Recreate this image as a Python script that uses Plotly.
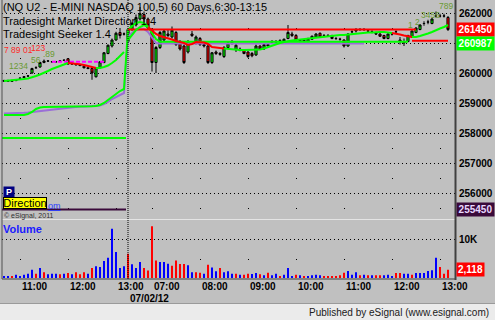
import plotly.graph_objects as go

# ---------------- data ----------------
session_bars = [31, 81]          # prev. session 10:40-13:10, then 07/02/12 06:30-13:10 (5-min bars)
tick_bars = [4, 16, 28, 37, 49, 61, 73, 85, 97, 109]
tick_text = ["11:00", "12:00", "13:00", "07:00", "08:00", "09:00", "10:00", "11:00", "12:00", "13:00"]
date_text = "07/02/12"
price_ticks = [262000, 261000, 260000, 259000, 258000, 257000, 256000]
vol_ticks = [10000]

opens = [
    259725, 259750, 259750, 259775, 259825, 259850, 259900, 260000, 260175, 260200,
    260350, 260400, 260375, 260375, 260400, 260425, 260475, 260325, 260300, 260275,
    260225, 260175, 260150, 259875, 260175, 260350, 260650, 260900, 261100, 261350,
    261300,
    261050, 261450, 261600, 261800, 261950, 261800, 261450, 260350, 260850, 261100,
    261300, 261200, 261350, 261050, 260900, 260700, 261300, 261000, 261150, 260950,
    260900, 260350, 260700, 260650, 260550, 260850, 261025, 260775, 260800, 260750,
    260700, 260650, 260600, 260900, 260800, 260950, 261050, 261050, 261050, 261025,
    261150, 261300, 261250, 261100, 261100, 261050, 261125, 261200, 261325, 261250,
    261250, 261250, 261150, 261125, 261100, 260900, 261375, 261400, 261450, 261450,
    261400, 261375, 261325, 261300, 261250, 261150, 261300, 261375, 261100, 261050,
    261050, 261200, 261350, 261450, 261650, 261700, 261650, 261900, 261900, 261900,
    261850]
highs = [
    259775, 259775, 259775, 259800, 259850, 259900, 259925, 260175, 260225, 260375,
    260450, 260425, 260400, 260400, 260425, 260450, 260500, 260350, 260325, 260300,
    260250, 260200, 260200, 260200, 260400, 260700, 260950, 261150, 261375, 261500,
    261350,
    261500, 261700, 261950, 262200, 262050, 261850, 261500, 260900, 261400, 261450,
    261450, 261550, 261400, 261100, 260950, 261100, 261400, 261250, 261200, 261000,
    260950, 260700, 260750, 260700, 260900, 261050, 261100, 261000, 260850, 260800,
    260725, 260700, 260950, 260925, 260975, 260975, 261100, 261100, 261125, 261150,
    261600, 261375, 261300, 261125, 261125, 261175, 261250, 261325, 261350, 261300,
    261300, 261275, 261200, 261175, 261125, 261325, 261425, 261500, 261500, 261500,
    261450, 261425, 261375, 261325, 261275, 261325, 261350, 261425, 261200, 261150,
    261275, 261425, 261525, 261625, 261725, 261775, 261825, 262050, 261975, 261975,
    261900]
lows = [
    259700, 259700, 259700, 259725, 259800, 259825, 259875, 259975, 260150, 260175,
    260325, 260375, 260350, 260350, 260375, 260400, 260275, 260275, 260250, 260225,
    260150, 260125, 259775, 259850, 260150, 260325, 260625, 260850, 261075, 261150,
    261250,
    261000, 261400, 261550, 261750, 261700, 261450, 260050, 260000, 260800, 261050,
    261200, 261150, 260900, 260750, 260300, 260650, 261200, 260950, 260900, 260850,
    260300, 260300, 260600, 260575, 260500, 260800, 260950, 260700, 260725, 260625,
    260500, 260525, 260575, 260775, 260775, 260875, 260975, 260975, 261000, 261000,
    261125, 261200, 261075, 261025, 261025, 261025, 261100, 261175, 261175, 261200,
    261200, 261125, 261100, 261075, 260850, 260875, 261325, 261350, 261400, 261400,
    261350, 261325, 261275, 261200, 261125, 261125, 261250, 261325, 260950, 260900,
    261025, 261175, 261325, 261425, 261575, 261625, 261625, 261850, 261850, 261850,
    261400]
closes = [
    259750, 259725, 259725, 259750, 259825, 259875, 259900, 260150, 260175, 260350,
    260400, 260400, 260375, 260375, 260400, 260425, 260300, 260300, 260275, 260250,
    260175, 260150, 260000, 260175, 260375, 260675, 260925, 261100, 261325, 261250,
    261300,
    261450, 261650, 261850, 261975, 261800, 261500, 260350, 260850, 261350, 261400,
    261250, 261425, 260950, 260800, 260350, 261050, 261250, 261200, 260950, 260900,
    260350, 260675, 260650, 260625, 260850, 261000, 261000, 260925, 260750, 260650,
    260550, 260575, 260900, 260800, 260950, 260900, 261025, 261025, 261075, 261125,
    261350, 261250, 261100, 261075, 261075, 261150, 261225, 261300, 261200, 261250,
    261250, 261150, 261150, 261125, 260900, 261300, 261375, 261450, 261450, 261450,
    261400, 261375, 261300, 261225, 261150, 261300, 261300, 261375, 261050, 261000,
    261250, 261400, 261500, 261600, 261650, 261700, 261800, 261900, 261900, 261900,
    261450]
volumes = [
    500, 500, 500, 850, 500, 850, 1100, 2100, 1100, 2560,
    1500, 950, 1100, 1100, 950, 1100, 1300, 950, 1500, 950,
    1500, 1100, 2560, 3000, 2800, 4350, 5200, 12600, 6650, 2560,
    3000,
    6200, 3500, 2560, 4100, 2560, 1900, 13300, 4500, 4100, 4100,
    3650, 3150, 4500, 3600, 3600, 3250, 1500, 1500, 1350, 1100,
    3400, 2700, 1700, 2560, 1500, 1700, 1100, 1100, 850, 850,
    1100, 1000, 1300, 950, 700, 1350, 700, 1100, 500, 850,
    2560, 500, 850, 700, 500, 500, 700, 850, 700, 500,
    500, 500, 500, 700, 1350, 1800, 850, 1500, 700, 850,
    700, 700, 700, 700, 700, 850, 500, 1300, 1300, 1100,
    1100, 850, 1300, 1300, 1300, 1800, 2000, 5200, 2800, 1100,
    2118]
# b = blue (up) volume, r = red (down) volume
vol_dir = ("bbrbbbbbrb" "rbbbrbrbrr" "rbrbbbbbbb" "b"
           "rbbbrrrrbb" "brrrrbbrrb" "rbbrbb"
           "brbrrbbrbr" "bbrbbbrbrb" "bbbrrrrrrb" "bbrbrbrrbb" "brrbbrbbbb" "bbrrr")

# Tradesight Seeker (fast trailing line) and its state g = long / r = short
fast_seeker = [
    259733, 259743, 259750, 259767, 259783, 259800, 259817, 259850, 259900, 259950,
    260000, 260067, 260133, 260183, 260233, 260283, 260333, 260323, 260307, 260290,
    260267, 260240, 260200, 260167, 260167, 260200, 260250, 260333, 260433, 260567,
    260700,
    261100, 261267, 261433, 261533, 261600, 261533, 261400, 261300, 261233, 261200,
    261167, 261117, 261067, 261033, 261000, 260933, 260967, 261033, 261033, 261017,
    260967, 260867, 260850, 260833, 260817, 260800, 260783, 260767, 260767, 260767,
    260767, 260767, 260767, 260783, 260817, 260867, 260917, 260967, 261000, 261033,
    261067, 261083, 261100, 261117, 261133, 261150, 261167, 261183, 261200, 261200,
    261217, 261233, 261250, 261267, 261267, 261283, 261300, 261317, 261333, 261333,
    261350, 261350, 261367, 261367, 261367, 261350, 261333, 261317, 261283, 261250,
    261217, 261200, 261200, 261233, 261267, 261317, 261367, 261433, 261483, 261533,
    261600]
fast_state = ("gggggggggggggggg" "rrrrrrr" "gggggggg"
              "ggggg" "rrrrrrrrrrrrrrrrrrr"
              "gggggggggggggggggggggggggggggggggggggggggg" "rrrrr" "gggggggggg")

# slow seeker line (green) and its shadow (purple)
slow_seeker = [
    258600, 258600, 258600, 258600, 258600, 258600, 258633, 258700, 258800, 258850,
    258867, 258867, 258867, 258867, 258870, 258870, 258875, 258875, 258880, 258880,
    258885, 258885, 258890, 258900, 258933, 259000, 259100, 259200, 259300, 259400,
    259467,
    261433, 261567, 261667, 261700, 261667, 261533, 261333, 261133, 261040, 261040,
    261040, 261040, 261040, 261040, 261040, 261040, 261040, 261040, 261040, 261040,
    261040, 261040, 261040, 261040, 261040, 261040, 261040, 261040, 261040, 261040,
    261040, 261040, 261040, 261040, 261040, 261040, 261040, 261040, 261040, 261040,
    261040, 261040, 261040, 261040, 261040, 261040, 261040, 261040, 261040, 261040,
    261040, 261040, 261040, 261040, 261040, 261040, 261040, 261040, 261040, 261040,
    261040, 261040, 261040, 261040, 261040, 261040, 261040, 261040, 261040, 261040,
    261040, None, None, None, None, None, None, None, None, None,
    None]
slow_shadow = [
    258650, 258650, 258655, 258660, 258667, 258675, 258685, 258700, 258720, 258740,
    258760, 258780, 258800, 258815, 258830, 258845, 258855, 258867, 258875, 258880,
    258885, 258890, 258895, 258900, 258917, 258967, 259033, 259133, 259200, 259267,
    259333,
    261233, 261333, 261433, 261483, 261467, 261367, 261167, 261000, 260985, 260985,
    260985, 260985, 260985, 260985, 260985, 260985, 260985, 260985, 260985, 260985,
    260985, 260985, 260985, 260985, 260985, 260985, 260985, 260985, 260985, 260985,
    260985, 260985, 260985, 260985, 260985, 260985, 260985, 260985, 260985, 260985,
    260985, 260985, 260985, 260985, 260985, 260985, 260985, 260985, 260985, 260985,
    260985, 260985, 260985, 260985, 260985, 260985, 260985, 260985, 260985, 260985,
    None, None, None, None, None, None, None, None, None, None,
    None, None, None, None, None, None, None, None, None, None,
    None]

# Market Direction levels: (first bar, last bar, price)
resistance_levels = [(31, 103, 261450), (102, 111, 261075)]
pivot_level = (12, 25, 260375)
day1_support = 257833
day1_floor = 255450
support_value = 260987

# TD-style bar counts: (text, bar, price, side, anchor)
counts = [
    ("7 89 01", -0.25, 260767, "dn", "left"), ("123", 6.4, 260850, "dn", "left"),
    (".89", 9.5, 260633, "up", "left"),
    ("1234", 6.25, 260233, "up", "right"), ("56", 6.5, 260433, "up", "left"),
    ("1", 102.5, 261600, "up", "right"), ("2", 102.5, 261700, "up", "left"),
    ("3456", 104.0, 261920, "up", "left"), ("789", 108.5, 262250, "up", "left"),
]

# ---------------- layout helpers ----------------
W, H = 495, 320
FONT = "Arial, Liberation Sans, sans-serif"


def X(px):
    return px / W


def Y(px):
    return 1 - px / H


N = len(closes)
idx = list(range(N))
day_of = []
for d, n in enumerate(session_bars):
    day_of += [d] * n

# price panel: pixel rows 0..218, 30 px per 1000 pts, 262000 at row 13
P_TOP_PX, P_BOT_PX, REF_PX, REF_P, PPX = 0, 218, 13, 262000, 0.03
p_hi = REF_P + (REF_PX - P_TOP_PX) / PPX
p_lo = REF_P - (P_BOT_PX - REF_PX) / PPX
# volume panel: rows 220..278, 39 px per 10K
V_TOP_PX, V_BOT_PX = 220, 278
v_hi = (V_BOT_PX - V_TOP_PX) / 39 * 10000
XL, XR = 2, 455
x_lo = (XL - 4) / 4
x_hi = (XR - 4) / 4


def price_px(p):
    return REF_PX + (REF_P - p) * PPX


fig = go.Figure()

# slow seeker shadow + line
fig.add_trace(go.Scatter(x=idx, y=slow_shadow, mode="lines",
                         line=dict(color="#9a6fd6", width=2), hoverinfo="skip"))
fig.add_trace(go.Scatter(x=idx, y=slow_seeker, mode="lines",
                         line=dict(color="#00ff00", width=2), hoverinfo="skip"))

# day-1 horizontal levels
d1 = [i for i in idx if day_of[i] == 0]
fig.add_trace(go.Scatter(x=[d1[0] - 0.5, d1[-1] + 0.5], y=[day1_support] * 2, mode="lines",
                         line=dict(color="#00ff00", width=2), hoverinfo="skip"))
fig.add_trace(go.Scatter(x=[d1[0] - 0.5, d1[-1] + 0.5], y=[day1_floor] * 2, mode="lines",
                         line=dict(color="#3a0a3a", width=2), hoverinfo="skip"))

# pivot dashed
fig.add_trace(go.Scatter(x=[pivot_level[0], pivot_level[1]], y=[pivot_level[2]] * 2, mode="lines",
                         line=dict(color="#ff00ff", width=2, dash="4px,2px"), hoverinfo="skip"))

# resistance levels
for a, b, lv in resistance_levels:
    fig.add_trace(go.Scatter(x=[a, b], y=[lv, lv], mode="lines",
                             line=dict(color="#ff0000", width=2), hoverinfo="skip"))

# fast seeker, coloured by state
start = 0
for i in range(1, N + 1):
    if i == N or fast_state[i] != fast_state[start] or day_of[i] != day_of[start]:
        xs = list(range(start, i))
        if i < N and day_of[i] == day_of[start]:
            xs.append(i)
        col = "#00ff00" if fast_state[start] == "g" else "#ff0000"
        fig.add_trace(go.Scatter(x=xs, y=[fast_seeker[k] for k in xs], mode="lines",
                                 line=dict(color=col, width=2), hoverinfo="skip"))
        start = i

# candles
fig.add_trace(go.Candlestick(
    x=idx, open=opens, high=highs, low=lows, close=closes,
    increasing=dict(line=dict(color="black", width=1), fillcolor="#00ff00"),
    decreasing=dict(line=dict(color="black", width=1), fillcolor="#ff0000"),
    whiskerwidth=0, hoverinfo="skip", xaxis="x", yaxis="y"))

# volume
fig.add_trace(go.Bar(x=idx, y=volumes,
                     marker=dict(color=["#0000ff" if c == "b" else "#ff0000" for c in vol_dir],
                                 line=dict(width=0)),
                     width=0.3, xaxis="x2", yaxis="y2", hoverinfo="skip"))

ann = []
# header texts
for txt, ypx in [("(NQ U2 - E-MINI NASDAQ 100,5) 60 Days,6:30-13:15", 7),
                 ("Tradesight Market Direction 1.4", 21),
                 ("Tradesight Seeker 1.4", 34)]:
    ann.append(dict(text=txt, x=X(1), y=Y(ypx), xref="paper", yref="paper", xanchor="left",
                    yanchor="middle", showarrow=False, font=dict(family=FONT, size=11, color="black")))

# counts
for txt, b, p, side, anc in counts:
    ann.append(dict(text=txt, x=b, y=p, xref="x", yref="y", showarrow=False, xanchor=anc,
                    yanchor="middle", borderpad=0,
                    font=dict(family=FONT, size=8.5, color="#ff2a2a" if side == "dn" else "#6a9a32")))

# right price labels
boxes = [(closes[-1], "#ff0000", "white"), (support_value, "#00ff00", "white"), (day1_floor, "#3a0a3a", "#e8d8ff")]
for t in price_ticks:
    if any(abs(price_px(t) - price_px(b[0])) < 12 for b in boxes):
        continue
    ann.append(dict(text="<b>%d</b>" % t, x=X(457), y=t, xref="paper", yref="y", xanchor="left",
                    yanchor="middle", showarrow=False, font=dict(family=FONT, size=10, color="black")))
for val, bg, fg in boxes:
    ann.append(dict(text="<b>%d</b>" % val, x=X(456), y=val, xref="paper", yref="y", xanchor="left",
                    yanchor="middle", showarrow=False, bgcolor=bg, borderpad=1, width=35, height=11,
                    font=dict(family=FONT, size=10, color=fg)))

# volume labels
for t in vol_ticks:
    ann.append(dict(text="<b>%dK</b>" % (t // 1000), x=X(457), y=t, xref="paper", yref="y2",
                    xanchor="left", yanchor="middle", showarrow=False,
                    font=dict(family=FONT, size=10, color="black")))
ann.append(dict(text="<b>%s</b>" % format(volumes[-1], ","), x=X(456), y=volumes[-1], xref="paper",
                yref="y2", xanchor="left", yanchor="middle", showarrow=False, bgcolor="#ff0000",
                borderpad=1, font=dict(family=FONT, size=10, color="white")))
ann.append(dict(text="<b>Volume</b>", x=X(1), y=Y(229), xref="paper", yref="paper", xanchor="left",
                yanchor="middle", showarrow=False, font=dict(family=FONT, size=11, color="#1a1aff")))

# x labels
for b, t in zip(tick_bars, tick_text):
    ann.append(dict(text="<b>%s</b>" % t, x=b, y=Y(286), xref="x", yref="paper", xanchor="left",
                    yanchor="middle", showarrow=False, font=dict(family=FONT, size=10, color="black")))
ann.append(dict(text="<b>%s</b>" % date_text, x=session_bars[0], y=Y(298.5), xref="x", yref="paper",
                xanchor="left", yanchor="middle", showarrow=False,
                font=dict(family=FONT, size=10, color="black")))

# small widgets bottom-left
ann.append(dict(text="<b>P</b>", x=X(3), y=Y(191.5), xref="paper", yref="paper", xanchor="left",
                yanchor="middle", showarrow=False, bgcolor="#000080", width=10, height=10, borderpad=0,
                font=dict(family=FONT, size=9, color="white")))
ann.append(dict(text="<u>om</u>", x=X(46), y=Y(206), xref="paper", yref="paper", xanchor="left",
                yanchor="middle", showarrow=False, font=dict(family=FONT, size=9, color="#2a3cff")))
ann.append(dict(text="Direction", x=X(3), y=Y(202.5), xref="paper", yref="paper", xanchor="left",
                yanchor="middle", showarrow=False, bgcolor="#ffff00", bordercolor="black", borderwidth=1,
                borderpad=0, width=42, height=10, font=dict(family=FONT, size=11, color="black")))
ann.append(dict(text="© eSignal, 2011", x=X(2), y=Y(215.5), xref="paper", yref="paper", xanchor="left",
                yanchor="middle", showarrow=False, font=dict(family=FONT, size=7, color="#303030")))
ann.append(dict(text="Published by eSignal (www.esignal.com)", x=X(491), y=Y(312), xref="paper",
                yref="paper", xanchor="right", yanchor="middle", showarrow=False,
                font=dict(family=FONT, size=10, color="#202020")))

shapes = [
    dict(type="rect", xref="paper", yref="paper", x0=0, x1=1, y0=0, y1=Y(303.5),
         fillcolor="#ebebeb", line=dict(width=0), layer="below"),
    dict(type="line", xref="paper", yref="paper", x0=0, x1=1, y0=Y(303.5), y1=Y(303.5),
         line=dict(color="#9a9a9a", width=1)),
    dict(type="line", xref="paper", yref="paper", x0=X(XL), x1=X(XR), y0=Y(219.5), y1=Y(219.5),
         line=dict(color="#e4e4e4", width=1)),
    dict(type="line", xref="paper", yref="paper", x0=X(XL), x1=X(XR), y0=Y(279), y1=Y(279),
         line=dict(color="#404040", width=1)),
    dict(type="line", xref="paper", yref="paper", x0=X(XL), x1=X(XL), y0=Y(279), y1=1,
         line=dict(color="#505050", width=1)),
    dict(type="line", xref="paper", yref="paper", x0=X(XR + 0.5), x1=X(XR + 0.5), y0=Y(280), y1=1,
         line=dict(color="#404040", width=2)),
    dict(type="line", xref="x", yref="paper", x0=session_bars[0], x1=session_bars[0], y0=Y(279), y1=1,
         line=dict(color="black", width=1, dash="1px,1px")),
]

fig.update_layout(
    width=W, height=H, margin=dict(l=0, r=0, t=0, b=0), autosize=False,
    paper_bgcolor="#c0c0c0", plot_bgcolor="#c0c0c0", showlegend=False, boxgap=0.25,
    annotations=ann, shapes=shapes, hovermode=False,
    xaxis=dict(domain=[X(XL), X(XR)], range=[x_lo, x_hi], anchor="y", showticklabels=False,
               tickmode="array", tickvals=tick_bars, showgrid=True, gridcolor="black", gridwidth=1,
               griddash="0px,28px,1px,1px", zeroline=False, showline=False, ticks="",
               rangeslider=dict(visible=False)),
    yaxis=dict(domain=[Y(P_BOT_PX), Y(P_TOP_PX)], range=[p_lo, p_hi], anchor="x", showticklabels=False,
               tickmode="array", tickvals=price_ticks, showgrid=True, gridcolor="black", gridwidth=1,
               griddash="1px,3px", zeroline=False, showline=False, ticks=""),
    xaxis2=dict(domain=[X(XL), X(XR)], range=[x_lo, x_hi], anchor="y2", showticklabels=False,
                tickmode="array", tickvals=tick_bars, showgrid=True, gridcolor="black", gridwidth=1,
                griddash="0px,39px,1px,60px", zeroline=False, showline=False, ticks=""),
    yaxis2=dict(domain=[Y(V_BOT_PX), Y(V_TOP_PX)], range=[0, v_hi], anchor="x2", showticklabels=False,
                tickmode="array", tickvals=vol_ticks, showgrid=True, gridcolor="black", gridwidth=1,
                griddash="1px,3px", zeroline=False, showline=False, ticks=""),
)

fig.write_html("out.html")
